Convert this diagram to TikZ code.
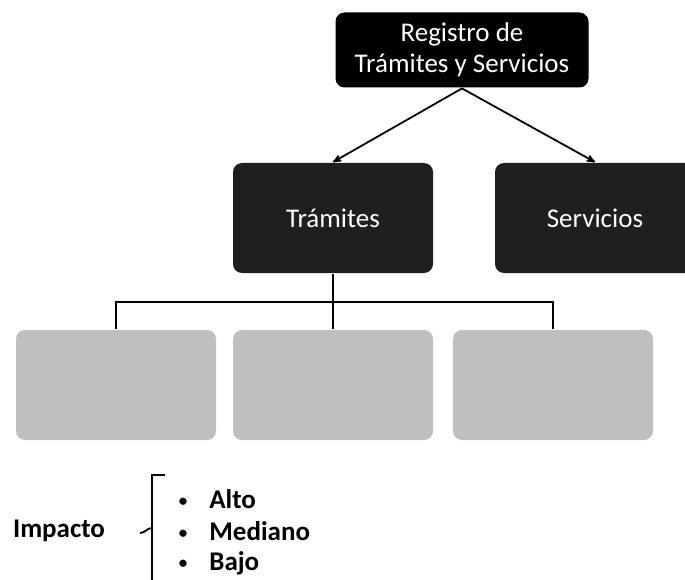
\documentclass[tikz,border=0pt]{standalone}
\usepackage{fontspec}
\setmainfont{Carlito}
\usetikzlibrary{arrows}
\tikzset{%
  boxnode/.style  = {shape=rectangle, rounded corners=9pt,%
                     align=center, inner sep=0pt,%
                     font=\fontsize{27}{31}\selectfont},%
  rootbox/.style  = {boxnode, fill=black, text=white,%
                     minimum width=253pt, minimum height=75pt},%
  subbox/.style   = {boxnode, fill=black!88, text=white,%
                     minimum width=200pt, minimum height=110pt},%
  leafbox/.style  = {boxnode, fill=black!25,%
                     minimum width=200pt, minimum height=110pt},%
  item/.style     = {anchor=west, inner sep=0pt,%
                     font=\bfseries\fontsize{27}{30}\selectfont}%
}
\newcommand{\dotitem}{{\fontsize{17}{17}\selectfont\raisebox{2pt}{\textbullet}}\hspace{22pt}}

\begin{document}
\begin{tikzpicture}[x=1pt, y=-1pt, line width=1.8pt, >=stealth']
  \useasboundingbox (0,0) rectangle (685,580);
  % arbol
  \node [rootbox] (reg) at (462,50)  {Registro de\\Trámites y Servicios};
  \node [subbox]  (tram) at (333,218) {Trámites};
  \node [subbox]  (serv) at (595,218) {Servicios};
  \node [leafbox] (leafA) at (116,385) {};
  \node [leafbox] (leafB) at (333,385) {};
  \node [leafbox] (leafC) at (553,385) {};
  \coordinate (bus) at (333,302);
  \draw [->] (reg.south) -- (tram.north);
  \draw [->] (reg.south) -- (serv.north);
  \draw (tram.south) -- (leafB.north);
  \draw (leafA.north) |- (bus) -| (leafC.north);
  % leyenda
  \node [item, anchor=center] (imp) at (59,531) {Impacto};
  \draw (165,475) -- (152,475) [rounded corners=3pt] -- (152,590);
  \draw (140,533) to[out=0,in=180] (152,528);
  \node [item] (alto) at (178,499) {\dotitem Alto};
  \node [item] (med)  at (178,531) {\dotitem Mediano};
  \node [item] (bajo) at (178,563) {\dotitem Bajo};
\end{tikzpicture}
\end{document}
